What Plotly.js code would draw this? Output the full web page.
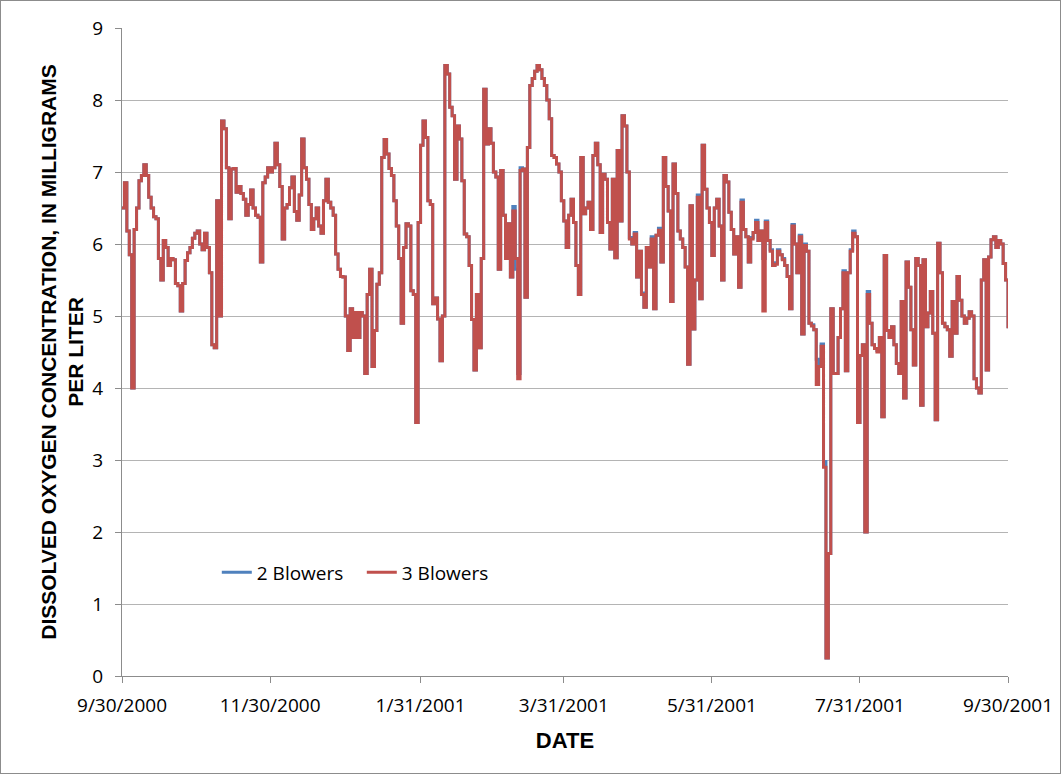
<!DOCTYPE html>
<html>
<head>
<meta charset="utf-8">
<script src="https://cdn.plot.ly/plotly-3.0.1.min.js"></script>
<style>
  html, body { margin: 0; padding: 0; background: #ffffff; }
  #frame { position: absolute; left: 0; top: 0; width: 1059px; height: 772px; border: 1px solid #8c8c8c; }
  #chart { width: 1059px; height: 772px; }
</style>
</head>
<body>
<div id="frame"><div id="chart"></div></div>
<script>
// Daily dissolved-oxygen values, 9/30/2000 .. 9/30/2001 (366 days)
const startDate = '2000-09-30';
const seriesNames = ['2 Blowers', '3 Blowers'];
const tickDates = ['2000-09-30', '2000-11-30', '2001-01-31', '2001-03-31', '2001-05-31', '2001-07-31', '2001-09-30'];
const tickLabels = ['9/30/2000', '11/30/2000', '1/31/2001', '3/31/2001', '5/31/2001', '7/31/2001', '9/30/2001'];

const blowers3 = [
6.5,6.85,6.18,5.85,4.0,6.2,6.5,6.88,6.95,7.1,
6.95,6.65,6.5,6.38,6.35,5.8,5.5,6.05,5.95,5.7,
5.8,5.78,5.45,5.42,5.07,5.45,5.77,5.88,5.95,6.08,
6.15,6.18,6.0,5.92,6.15,5.95,5.6,4.6,4.56,6.6,
5.0,7.71,7.6,7.06,6.35,7.04,7.05,6.72,6.8,6.7,
6.62,6.4,6.55,6.75,6.5,6.4,6.37,5.75,6.85,6.93,
7.06,7.0,7.06,7.4,7.1,6.8,6.07,6.5,6.55,6.78,
6.93,6.45,6.33,6.68,7.46,7.06,6.9,6.55,6.2,6.35,
6.5,6.25,6.15,6.6,6.9,6.58,6.5,6.4,5.86,5.65,
5.55,5.54,5.0,4.52,5.1,4.7,5.05,4.7,5.05,5.0,
4.2,5.3,5.65,4.3,4.8,5.44,5.6,7.2,7.45,7.25,
7.05,6.95,6.6,6.25,5.8,4.9,5.95,6.28,6.25,5.35,
5.3,3.52,6.3,7.37,7.71,7.48,6.6,6.55,5.17,5.25,
4.96,4.38,5.0,8.48,8.36,7.9,7.78,6.9,7.64,7.46,
6.88,6.14,6.1,5.7,4.95,4.25,5.3,4.56,5.8,8.15,
7.39,7.6,7.4,7.0,6.93,5.65,7.02,6.4,5.8,6.28,
5.54,6.46,5.8,4.13,7.02,7.04,5.26,7.34,8.2,8.3,
8.4,8.48,8.42,8.3,8.2,8.0,7.74,7.23,7.2,7.11,
7.0,6.6,6.32,5.95,6.4,6.62,6.3,5.7,5.3,7.2,
6.42,6.5,6.58,6.2,7.23,7.4,7.1,6.16,6.97,6.9,
6.3,5.93,6.9,5.81,7.3,6.32,7.78,7.64,7.0,6.07,
6.0,6.14,5.54,5.9,5.3,5.12,5.95,5.68,6.07,5.1,
6.12,6.19,5.75,7.2,6.8,6.46,5.2,7.11,6.7,6.18,
6.07,5.95,5.68,4.33,6.53,4.82,5.5,6.65,5.24,7.37,
6.76,6.5,6.3,5.84,6.5,6.62,6.25,5.5,6.95,6.86,
6.44,6.2,5.86,6.1,5.4,6.58,6.2,6.1,5.75,6.07,
6.16,6.3,6.05,6.18,5.07,6.3,6.05,5.9,5.7,5.72,
5.9,5.85,5.78,5.7,5.55,5.1,6.25,6.0,5.6,6.1,
4.75,5.98,5.9,4.9,4.86,4.81,4.05,4.3,4.58,2.9,
0.25,1.7,5.1,4.2,4.2,4.7,5.1,5.6,4.24,5.6,
5.9,6.15,6.1,3.52,4.45,4.6,2.0,5.3,4.9,4.6,
4.55,4.5,4.7,3.6,5.84,4.8,4.7,4.85,4.6,4.34,
4.2,5.2,3.86,5.75,5.4,4.81,4.32,5.8,5.7,3.76,
5.78,4.85,5.04,5.34,4.76,3.56,6.01,5.6,4.9,4.85,
4.81,4.44,5.2,4.76,5.55,5.22,5.0,4.9,4.97,5.06,
5.0,4.13,4.0,3.93,5.5,5.78,4.25,5.82,6.06,6.1,
5.95,6.05,6.0,5.73,5.5,4.83
];

const blowers2 = [
6.5,6.85,6.18,5.85,4.0,6.2,6.5,6.88,6.95,7.1,
6.95,6.65,6.5,6.38,6.35,5.8,5.5,6.05,5.95,5.7,
5.8,5.78,5.45,5.42,5.07,5.45,5.77,5.88,5.95,6.08,
6.15,6.18,6.0,5.92,6.15,5.95,5.6,4.6,4.56,6.6,
5.0,7.71,7.6,7.06,6.35,7.04,7.05,6.72,6.8,6.7,
6.62,6.4,6.55,6.75,6.5,6.4,6.37,5.75,6.85,6.93,
7.06,7.0,7.06,7.4,7.1,6.8,6.07,6.5,6.55,6.78,
6.93,6.45,6.33,6.68,7.46,7.06,6.9,6.55,6.2,6.35,
6.5,6.25,6.15,6.6,6.9,6.58,6.5,6.4,5.86,5.65,
5.55,5.54,5.0,4.52,5.1,4.7,5.05,4.7,5.05,5.0,
4.2,5.3,5.65,4.3,4.8,5.44,5.6,7.2,7.45,7.25,
7.05,6.95,6.6,6.25,5.8,4.9,5.95,6.28,6.25,5.35,
5.3,3.52,6.3,7.37,7.71,7.48,6.6,6.55,5.17,5.25,
4.96,4.38,5.0,8.48,8.36,7.9,7.78,6.9,7.64,7.46,
6.88,6.14,6.1,5.7,4.95,4.25,5.3,4.56,5.8,8.15,
7.39,7.6,7.4,7.0,6.93,5.65,7.02,6.4,5.8,6.28,
5.54,6.52,5.65,4.2,7.06,7.04,5.26,7.34,8.2,8.3,
8.4,8.48,8.42,8.3,8.2,8.0,7.74,7.23,7.2,7.11,
7.0,6.6,6.32,5.95,6.4,6.62,6.3,5.7,5.3,7.2,
6.42,6.5,6.58,6.2,7.23,7.4,7.1,6.16,6.97,6.9,
6.3,5.93,6.9,5.81,7.3,6.32,7.78,7.64,7.0,6.09,
6.0,6.16,5.54,5.9,5.32,5.12,5.95,5.68,6.1,5.1,
6.12,6.22,5.75,7.2,6.8,6.46,5.2,7.11,6.7,6.18,
6.07,5.95,5.68,4.33,6.53,4.82,5.5,6.68,5.24,7.37,
6.76,6.5,6.3,5.84,6.5,6.62,6.25,5.5,6.95,6.86,
6.44,6.2,5.86,6.1,5.4,6.61,6.2,6.1,5.75,6.09,
6.16,6.33,6.05,6.18,5.8,6.32,6.05,5.92,5.7,5.74,
5.92,5.85,5.8,5.7,5.55,5.1,6.27,6.0,5.6,6.12,
4.75,6.0,5.9,4.9,4.88,4.81,4.4,4.3,4.61,2.98,
0.25,1.7,5.1,4.2,4.2,4.7,5.1,5.63,4.24,5.6,
5.92,6.18,6.1,3.52,4.45,4.6,2.0,5.34,4.9,4.6,
4.55,4.52,4.7,3.6,5.84,4.8,4.7,4.85,4.6,4.34,
4.2,5.2,3.86,5.75,5.4,4.81,4.32,5.8,5.7,3.76,
5.78,4.85,5.04,5.34,4.76,3.56,6.01,5.6,4.9,4.85,
4.81,4.44,5.2,4.76,5.55,5.22,5.0,4.9,4.97,5.06,
5.0,4.13,4.0,3.93,5.5,5.78,4.25,5.82,6.06,6.1,
5.95,6.05,6.0,5.73,5.5,4.83
];

function dayDates(start, n) {
  const p = start.split('-').map(Number);
  const out = [];
  for (let i = 0; i < n; i++) {
    const d = new Date(Date.UTC(p[0], p[1] - 1, p[2] + i));
    out.push(d.toISOString().slice(0, 10));
  }
  return out;
}
const dates = dayDates(startDate, blowers3.length);

const traces = [
  { x: dates, y: blowers2, name: seriesNames[0], type: 'scatter', mode: 'lines',
    line: { color: '#4F81BD', width: 3, shape: 'hv' } },
  { x: dates, y: blowers3, name: seriesNames[1], type: 'scatter', mode: 'lines',
    line: { color: '#C0504D', width: 3, shape: 'hv' } }
];

const tickFont = { family: 'Open Sans, Liberation Sans, sans-serif', size: 19, color: '#000000' };
const titleFont = { family: 'Liberation Sans, sans-serif', size: 21, color: '#000000', weight: 'bold' };

const layout = {
  width: 1059, height: 772,
  margin: { l: 121, r: 52, t: 27, b: 97 },
  paper_bgcolor: '#ffffff', plot_bgcolor: '#ffffff',
  showlegend: true,
  legend: {
    orientation: 'h', x: 0.107, y: 0.16, xanchor: 'left', yanchor: 'middle',
    bgcolor: 'rgba(0,0,0,0)', font: { family: 'Open Sans, Liberation Sans, sans-serif', size: 19, color: '#000' },
    itemwidth: 30, traceorder: 'normal', entrywidth: 100, entrywidthmode: 'pixels'
  },
  xaxis: {
    type: 'date',
    range: ['2000-09-30', '2001-09-30'],
    tickvals: tickDates, ticktext: tickLabels,
    ticks: 'outside', ticklen: 6, tickcolor: '#8c8c8c', tickwidth: 1,
    showline: true, linecolor: '#8c8c8c', linewidth: 1,
    showgrid: false, zeroline: false,
    tickfont: tickFont, ticklabelstandoff: 6,
    title: { text: '<b>DATE</b>', font: { family: 'Liberation Sans, sans-serif', size: 22, color: '#000000', weight: 'bold' }, standoff: 15 },
    automargin: false, fixedrange: true
  },
  yaxis: {
    range: [0, 9], dtick: 1, tick0: 0,
    ticks: 'outside', ticklen: 6, tickcolor: '#8c8c8c', tickwidth: 1,
    showline: true, linecolor: '#8c8c8c', linewidth: 1,
    showgrid: true, gridcolor: '#b4b4b4', gridwidth: 1, zeroline: false,
    tickfont: tickFont, ticklabelstandoff: 8,
    title: { text: '<b>DISSOLVED OXYGEN CONCENTRATION, IN MILLIGRAMS<br>PER LITER</b>', font: titleFont, standoff: 2 },
    automargin: false, fixedrange: true
  }
};

Plotly.newPlot('chart', traces, layout, { displayModeBar: false, staticPlot: true });
</script>
</body>
</html>
